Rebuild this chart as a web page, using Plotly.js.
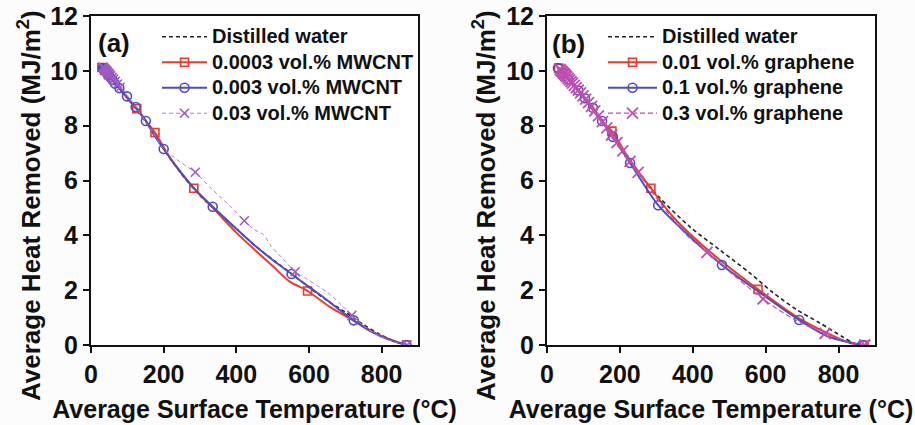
<!DOCTYPE html>
<html>
<head>
<meta charset="utf-8">
<script src="https://cdn.plot.ly/plotly-3.0.1.min.js"></script>
<style>
  html, body { margin: 0; padding: 0; background: #fcfcfc; }
  #chart { width: 915px; height: 425px; }
</style>
</head>
<body>
<div id="chart"></div>
<script>
// ---- Panel (a): MWCNT nanofluids ----
const waterA_T = [30, 40, 55, 75, 100, 130, 160, 200, 250, 300, 350, 400, 450, 500, 550, 600, 650, 700, 750, 800, 860];
const waterA_Q = [10.1, 9.98, 9.76, 9.42, 9.02, 8.5, 7.95, 7.14, 6.22, 5.45, 4.83, 4.24, 3.64, 3.12, 2.62, 2.1, 1.62, 1.2, 0.74, 0.35, 0.0];

const cnt1_T = [30, 33, 37, 42, 48, 55, 63, 72, 83, 96, 110, 126, 150, 176, 220, 283, 340, 400, 455, 500, 546, 596, 656, 719, 793, 868];
const cnt1_Q = [10.12, 10.08, 10.02, 9.95, 9.86, 9.75, 9.62, 9.47, 9.28, 9.06, 8.84, 8.62, 8.2, 7.75, 6.78, 5.72, 4.94, 4.1, 3.42, 2.88, 2.32, 1.97, 1.4, 0.92, 0.36, 0.0];
const cnt1_marks = [0, 2, 4, 11, 13, 15, 21, 25];

const cnt2_T = [32, 34, 36, 38, 41, 44, 48, 53, 59, 66, 78, 86, 99, 110, 123, 135, 151, 172, 200, 240, 283, 335, 400, 455, 500, 552, 600, 637, 680, 723, 770, 820, 868];
const cnt2_Q = [10.1, 10.07, 10.04, 10.01, 9.96, 9.91, 9.85, 9.77, 9.67, 9.54, 9.37, 9.22, 9.07, 8.88, 8.68, 8.46, 8.17, 7.7, 7.15, 6.42, 5.72, 5.04, 4.24, 3.58, 3.1, 2.59, 2.12, 1.77, 1.32, 0.9, 0.5, 0.2, 0.0];
const cnt2_marks = [0, 1, 2, 3, 4, 5, 6, 7, 8, 9, 10, 12, 14, 16, 18, 21, 25, 29, 32];

const cnt3_T = [33, 35, 37, 39, 41, 43, 45, 48, 51, 54, 58, 62, 67, 73, 80, 90, 102, 118, 135, 155, 178, 200, 235, 262, 287, 330, 380, 422, 448, 475, 495, 530, 562, 595, 628, 656, 690, 718, 765, 815, 870];
const cnt3_Q = [10.14, 10.11, 10.08, 10.05, 10.02, 9.99, 9.96, 9.92, 9.87, 9.82, 9.76, 9.7, 9.62, 9.52, 9.4, 9.24, 9.05, 8.78, 8.45, 8.05, 7.6, 7.15, 6.78, 6.52, 6.3, 5.72, 5.1, 4.53, 4.22, 4.02, 3.62, 3.12, 2.67, 2.4, 2.12, 1.86, 1.45, 1.08, 0.56, 0.2, 0.0];
const cnt3_marks = [0, 1, 2, 3, 4, 5, 6, 7, 8, 9, 10, 11, 12, 13, 14, 24, 27, 32, 37, 40];

// ---- Panel (b): graphene nanofluids ----
const waterB_T = [35, 45, 60, 80, 100, 125, 150, 175, 200, 250, 310, 393, 475, 557, 621, 686, 749, 812, 840, 860];
const waterB_Q = [10.1, 9.95, 9.75, 9.42, 9.08, 8.65, 8.2, 7.72, 7.22, 6.3, 5.36, 4.3, 3.46, 2.62, 1.9, 1.28, 0.8, 0.29, 0.07, 0.0];

const gr1_T = [32, 36, 41, 47, 54, 62, 71, 82, 95, 110, 127, 150, 178, 225, 285, 346, 448, 579, 686, 768, 832, 870];
const gr1_Q = [10.1, 10.04, 9.97, 9.88, 9.77, 9.64, 9.5, 9.32, 9.1, 8.84, 8.55, 8.15, 7.8, 6.8, 5.72, 4.67, 3.39, 2.03, 1.02, 0.44, 0.07, 0.0];
const gr1_marks = [0, 12, 14, 17, 21];

const gr2_T = [30, 33, 37, 41, 46, 52, 59, 67, 76, 86, 95, 104, 115, 126, 151, 181, 228, 305, 393, 480, 585, 692, 768, 865];
const gr2_Q = [10.1, 10.06, 10.0, 9.94, 9.87, 9.78, 9.68, 9.56, 9.43, 9.28, 9.15, 9.0, 8.83, 8.65, 8.17, 7.59, 6.64, 5.1, 3.94, 2.92, 1.9, 0.91, 0.33, 0.0];
const gr2_marks = [0, 3, 6, 9, 11, 13, 14, 15, 16, 17, 19, 21, 23];

const gr3_T = [36, 39, 42, 45, 48, 51, 54, 58, 62, 66, 70, 75, 80, 86, 92, 99, 106, 114, 122, 131, 141, 152, 164, 177, 192, 208, 228, 250, 280, 330, 385, 439, 500, 593, 680, 763, 820, 872];
const gr3_Q = [10.05, 10.0, 9.96, 9.92, 9.88, 9.83, 9.79, 9.73, 9.67, 9.61, 9.55, 9.47, 9.39, 9.3, 9.2, 9.09, 8.97, 8.84, 8.7, 8.54, 8.36, 8.15, 7.92, 7.66, 7.38, 7.08, 6.7, 6.3, 5.72, 4.85, 3.98, 3.38, 2.68, 1.68, 0.92, 0.42, 0.14, 0.0];
const gr3_marks = [0, 1, 2, 3, 4, 5, 6, 7, 8, 9, 10, 11, 12, 13, 14, 15, 16, 17, 18, 19, 20, 21, 22, 23, 24, 25, 26, 27, 31, 33, 35, 37];

// Axis ticks and titles
const xTicks = [0, 200, 400, 600, 800];
const yTicks = [0, 2, 4, 6, 8, 10, 12];
const xTitle = 'Average Surface Temperature (°C)';
const yTitle = 'Average Heat Removed (MJ/m<sup>2</sup>)';

const namesA = ['Distilled water', '0.0003 vol.% MWCNT', '0.003 vol.% MWCNT', '0.03 vol.% MWCNT'];
const namesB = ['Distilled water', '0.01 vol.% graphene', '0.1 vol.% graphene', '0.3 vol.% graphene'];

const FONT = '"Liberation Sans", Arial, Helvetica, sans-serif';
const INK = '#111';
const RED = '#ee3a2c';
const BLUE = '#4d4dbf';
const LILAC = '#b57ccc';
const MAGENTA = '#bd4fb0';

// legend rows are spaced by the legend font size; entry text is set a bit larger
const LEGEND_TEXT_PX = 20;
function entry(name) {
  return '<span style="font-size:' + LEGEND_TEXT_PX + 'px">' + name + '</span>';
}

function water(x, y, name, xa, ya, leg) {
  return {
    x: x, y: y, name: entry(name), xaxis: xa, yaxis: ya, legend: leg,
    type: 'scatter', mode: 'lines',
    line: { color: '#222', width: 1.6, dash: '4px,3px', shape: 'spline', smoothing: 0.8 }
  };
}

// Curve with markers drawn only at the listed sample indices
function series(x, y, marks, name, xa, ya, leg, opts) {
  return {
    x: x, y: y, name: entry(name), xaxis: xa, yaxis: ya, legend: leg,
    type: 'scatter', mode: 'lines+markers',
    selectedpoints: marks,
    selected: { marker: { opacity: 1 } },
    unselected: { marker: { opacity: 0 } },
    line: Object.assign({ shape: 'spline', smoothing: 0.8 }, opts.line),
    marker: opts.marker
  };
}

const redStyle = {
  line: { color: RED, width: 2 },
  marker: { symbol: 'square-open', size: 8, color: RED, line: { width: 1.6, color: RED } }
};
const blueStyle = {
  line: { color: BLUE, width: 2 },
  marker: { symbol: 'circle-open', size: 9, color: BLUE, line: { width: 1.6, color: BLUE } }
};
const lilacStyle = {
  line: { color: LILAC, width: 1, dash: '4px,3px' },
  marker: { symbol: 'x-thin-open', size: 9, color: '#a05cc0', line: { width: 1.6, color: '#a05cc0' } }
};
const magentaStyle = {
  line: { color: MAGENTA, width: 1.2, dash: '5px,3px' },
  marker: { symbol: 'x-thin-open', size: 11, color: MAGENTA, line: { width: 1.8, color: MAGENTA } }
};

const data = [
  water(waterA_T, waterA_Q, namesA[0], 'x', 'y', 'legend'),
  series(cnt1_T, cnt1_Q, cnt1_marks, namesA[1], 'x', 'y', 'legend', redStyle),
  series(cnt2_T, cnt2_Q, cnt2_marks, namesA[2], 'x', 'y', 'legend', blueStyle),
  series(cnt3_T, cnt3_Q, cnt3_marks, namesA[3], 'x', 'y', 'legend', lilacStyle),
  water(waterB_T, waterB_Q, namesB[0], 'x2', 'y2', 'legend2'),
  series(gr1_T, gr1_Q, gr1_marks, namesB[1], 'x2', 'y2', 'legend2', redStyle),
  series(gr2_T, gr2_Q, gr2_marks, namesB[2], 'x2', 'y2', 'legend2', blueStyle),
  series(gr3_T, gr3_Q, gr3_marks, namesB[3], 'x2', 'y2', 'legend2', magentaStyle)
];

const W = 915, H = 425;
const tickFont = { family: FONT, size: 25, color: INK, weight: 'bold' };
const titleFont = { family: FONT, size: 25, color: INK, weight: 'bold' };

function xAxis(domain, anchor) {
  return {
    domain: domain, range: [0, 900], tickvals: xTicks, ticktext: xTicks.map(String), anchor: anchor,
    showgrid: false, zeroline: false, showline: true, mirror: true,
    linecolor: INK, linewidth: 2, ticks: 'outside', ticklen: 6, tickwidth: 2, tickcolor: INK,
    tickfont: tickFont,
    title: { text: xTitle, font: titleFont, standoff: 13 }
  };
}
function yAxis(anchor) {
  return {
    domain: [1 - 345 / H, 1 - 16 / H], range: [0, 12], tickvals: yTicks, ticktext: yTicks.map(String),
    anchor: anchor,
    showgrid: false, zeroline: false, showline: true, mirror: true,
    linecolor: INK, linewidth: 2, ticks: 'outside', ticklen: 6, tickwidth: 2, tickcolor: INK,
    tickfont: tickFont
  };
}
function legendAt(px, itemW) {
  return {
    x: px / W, y: 1 - 19 / H, xanchor: 'left', yanchor: 'top',
    bgcolor: 'rgba(0,0,0,0)', borderwidth: 0,
    font: { family: FONT, size: 17.3, color: INK, weight: 'bold' },
    itemwidth: itemW, tracegroupgap: 0, itemclick: false
  };
}
function label(text, px, py, angle, size) {
  return {
    text: text, xref: 'paper', yref: 'paper', x: px / W, y: 1 - py / H, showarrow: false,
    xanchor: 'center', yanchor: 'middle', textangle: angle,
    font: { family: FONT, size: size, color: INK, weight: 'bold' }
  };
}

const layout = {
  width: W, height: H,
  margin: { l: 0, r: 0, t: 0, b: 0 },
  paper_bgcolor: '#fcfcfc', plot_bgcolor: '#ffffff',
  showlegend: true,
  xaxis: xAxis([91 / W, 418 / W], 'y'),
  yaxis: yAxis('x'),
  xaxis2: xAxis([547 / W, 875 / W], 'y2'),
  yaxis2: yAxis('x2'),
  legend: legendAt(157, 45),
  legend2: legendAt(603, 49),
  annotations: [
    label('(a)', 114, 43, 0, 26),
    label('(b)', 568, 44, 0, 26),
    label(yTitle, 30, 206, -90, 26),
    label(yTitle, 485, 206, -90, 26)
  ]
};

Plotly.newPlot('chart', data, layout, { staticPlot: true, displayModeBar: false });
</script>
</body>
</html>
